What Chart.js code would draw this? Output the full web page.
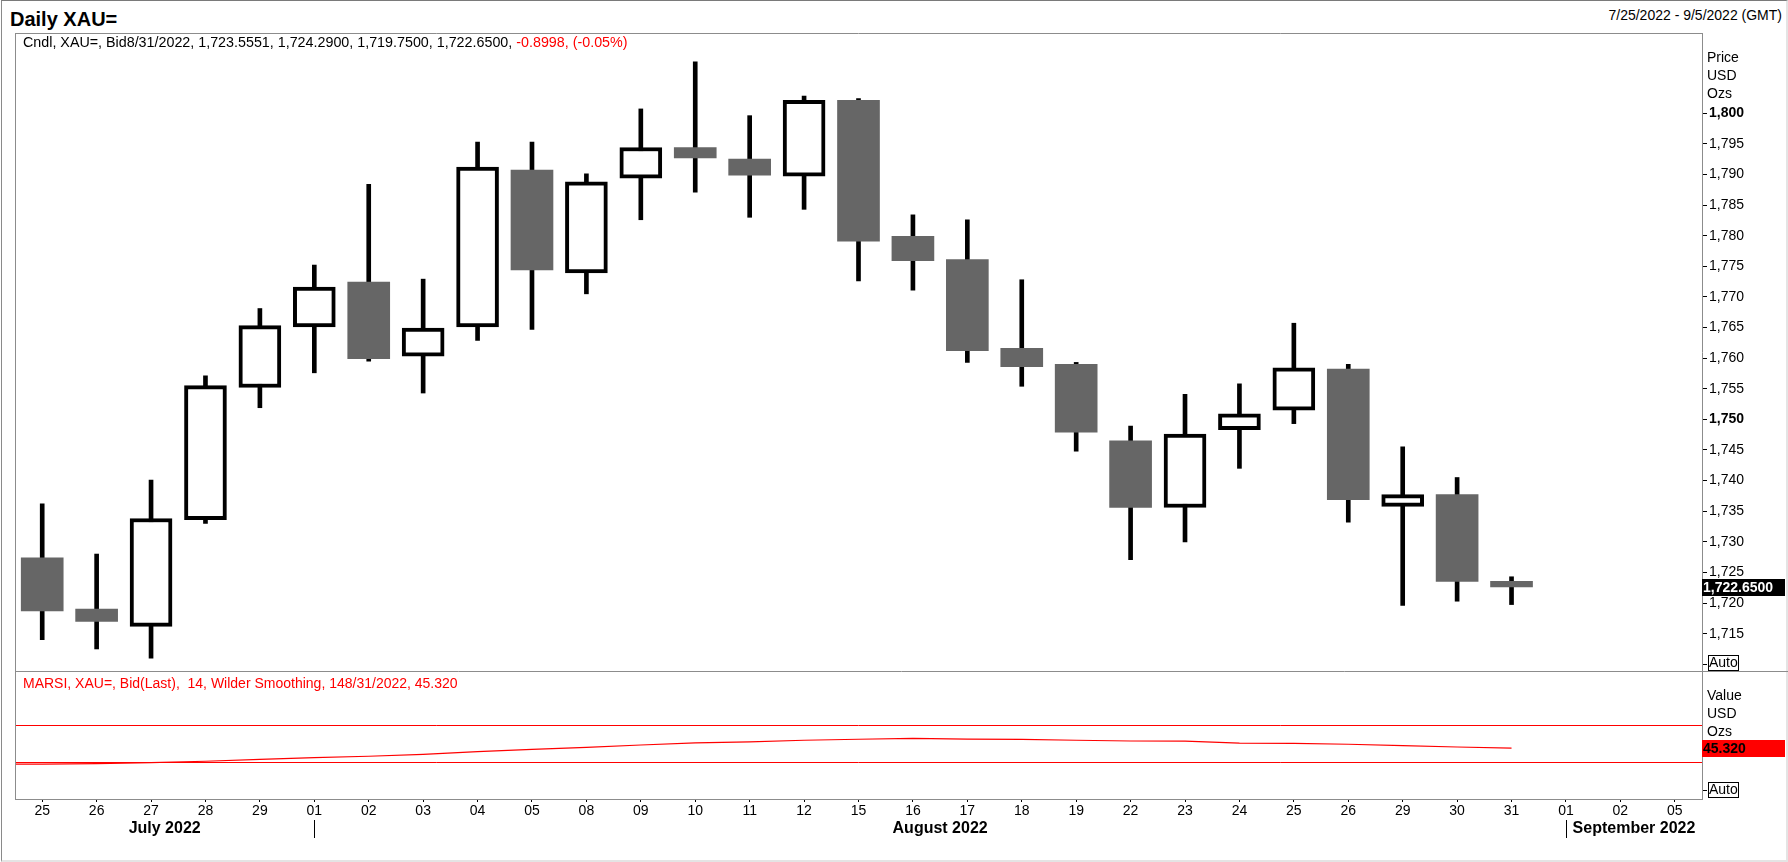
<!DOCTYPE html>
<html>
<head>
<meta charset="utf-8">
<title>Daily XAU=</title>
<script src="https://cdn.jsdelivr.net/npm/chart.js@4.4.1/dist/chart.umd.min.js"></script>
<style>
    html, body { margin: 0; padding: 0; background: #fff; }
    body {
        width: 1788px; height: 862px; position: relative; overflow: hidden;
        font-family: "Liberation Sans", Arial, sans-serif; color: #000;
    }
    .frame {
        position: absolute; left: 1px; top: 0; width: 1787px; height: 862px; box-sizing: border-box;
        border-top: 1px solid #7a7a7a; border-left: 1px solid #8a8a8a;
        border-right: 2px solid #e4e4e4; border-bottom: 2px solid #e4e4e4;
    }
    canvas { position: absolute; }
    #priceChart { left: 15px; top: 33px; }
    #rsiChart { left: 15px; top: 671px; }
    .txt { position: absolute; white-space: pre; z-index: 2; }
    #title { left: 10px; top: 7px; font-size: 20px; font-weight: bold; line-height: 24px; }
    #range { right: 6px; top: 7px; font-size: 14px; line-height: 16px; }
    #legend { left: 23px; top: 34px; font-size: 14.3px; line-height: 16px; }
    #rsiLegend { left: 23px; top: 675px; font-size: 14px; line-height: 16px; color: #ff0000; }
    .neg { color: #ff0000; }
</style>
</head>
<body>
<div class="frame"></div>
<div class="txt" id="title">Daily XAU=</div>
<div class="txt" id="range">7/25/2022 - 9/5/2022 (GMT)</div>
<div class="txt" id="legend">Cndl, XAU=, Bid8/31/2022, 1,723.5551, 1,724.2900, 1,719.7500, 1,722.6500, <span class="neg">-0.8998, (-0.05%)</span></div>
<div class="txt" id="rsiLegend">MARSI, XAU=, Bid(Last),  14, Wilder Smoothing, 148/31/2022, 45.320</div>
<canvas id="priceChart" width="1773" height="638"></canvas>
<canvas id="rsiChart" width="1773" height="191"></canvas>

<script>
// trading days 25 Jul - 5 Sep 2022 (last three are empty sessions)
const dayLabels = ['25', '26', '27', '28', '29', '01', '02', '03', '04', '05', '08', '09', '10', '11', '12',
    '15', '16', '17', '18', '19', '22', '23', '24', '25', '26', '29', '30', '31', '01', '02', '05'];
const monthNames = ['July 2022', 'August 2022', 'September 2022'];
const monthStart = [0, 5, 28];

const opens  = [1727.4, 1719.0, 1716.2, 1733.6, 1755.2, 1765.1, 1772.4, 1760.3, 1765.1, 1790.7, 1773.9, 1789.4, 1794.4, 1792.5,
    1789.7, 1802.1, 1779.9, 1776.1, 1761.6, 1759.0, 1746.5, 1735.6, 1748.3, 1751.5, 1758.2, 1735.8, 1737.7, 1723.5551];
const highs  = [1736.2, 1728.0, 1740.1, 1757.1, 1768.1, 1775.2, 1788.4, 1772.9, 1795.3, 1795.3, 1790.1, 1800.7, 1808.4, 1799.6,
    1802.8, 1802.4, 1783.4, 1782.6, 1772.8, 1759.3, 1748.9, 1754.1, 1755.8, 1765.7, 1759.0, 1745.5, 1740.5, 1724.29];
const lows   = [1714.0, 1712.5, 1711.0, 1733.0, 1751.9, 1757.6, 1759.5, 1754.3, 1762.9, 1764.7, 1770.5, 1782.6, 1787.1, 1783.0,
    1784.3, 1772.6, 1771.1, 1759.3, 1755.4, 1744.8, 1727.1, 1730.0, 1742.0, 1749.3, 1733.2, 1719.6, 1720.3, 1719.75];
const closes = [1718.7, 1717.0, 1733.8, 1755.5, 1765.3, 1771.6, 1759.9, 1764.9, 1791.2, 1774.4, 1788.8, 1794.4, 1792.7, 1789.9,
    1802.1, 1779.1, 1775.9, 1761.2, 1758.6, 1747.9, 1735.6, 1747.6, 1750.9, 1758.4, 1736.9, 1737.7, 1723.55, 1722.65];

// MARSI (14, Wilder) per session, plus the session before 25 Jul
const rsiPrior = 28.0;
const rsiValues = [28.1, 28.6, 29.7, 31.1, 33.1, 35.1, 36.5, 38.6, 41.5, 44.0, 46.2, 48.7, 50.9, 52.0,
    53.8, 54.9, 55.9, 55.0, 54.8, 53.8, 53.0, 52.8, 50.8, 50.4, 49.5, 48.1, 46.5, 45.32];
const rsiLevels = [70, 30];

const priceTicks = [1710, 1715, 1720, 1725, 1730, 1735, 1740, 1745, 1750, 1755, 1760, 1765, 1770, 1775,
    1780, 1785, 1790, 1795, 1800];
const autoPriceTick = 1710;
const autoRsiTick = 0;

const FONT = '"Liberation Sans", Arial, sans-serif';
const FRAME = '#8c8c8c';

document.addEventListener('DOMContentLoaded', function () {
    Chart.defaults.font.family = FONT;
    Chart.defaults.color = '#000';

    function axisHeader(ctx, area, lines) {
        ctx.save();
        ctx.font = '14px ' + FONT;
        ctx.fillStyle = '#000';
        ctx.textBaseline = 'middle';
        ctx.textAlign = 'left';
        lines.forEach(function (t, i) { ctx.fillText(t, area.right + 5, area.top + 25 + i * 18); });
        ctx.restore();
    }

    function autoBox(ctx, area, y) {
        ctx.save();
        ctx.font = '14px ' + FONT;
        ctx.textBaseline = 'middle';
        ctx.fillStyle = '#fff';
        ctx.fillRect(area.right + 6, y - 7, 30, 15);
        ctx.strokeStyle = '#000';
        ctx.lineWidth = 1;
        ctx.strokeRect(area.right + 6.5, y - 7.5, 30, 15);
        ctx.fillStyle = '#000';
        ctx.fillText('Auto', area.right + 7, y + 0.5);
        ctx.restore();
    }

    function valueTag(ctx, area, y, text, bg, fg) {
        ctx.save();
        ctx.fillStyle = bg;
        ctx.fillRect(area.right, y - 8, 83, 17);
        ctx.font = 'bold 14px ' + FONT;
        ctx.fillStyle = fg;
        ctx.textBaseline = 'middle';
        ctx.fillText(text, area.right + 1, y + 1);
        ctx.restore();
    }

    // Biểu đồ nến: thân + bóng nến bằng floating bars
    const bodyColors = opens.map(function (o, i) { return closes[i] >= o ? '#ffffff' : '#666666'; });
    const bodyBorders = opens.map(function (o, i) { return closes[i] >= o ? 4 : 0; });

    const pricePlugin = {
        id: 'priceDecor',
        afterDraw: function (chart) {
            const ctx = chart.ctx, a = chart.chartArea, y = chart.scales.y;
            ctx.save();
            ctx.strokeStyle = FRAME;
            ctx.lineWidth = 1;
            ctx.beginPath();
            ctx.moveTo(a.left, a.top + 0.5);
            ctx.lineTo(a.right, a.top + 0.5);
            ctx.moveTo(a.left + 0.5, a.top);
            ctx.lineTo(a.left + 0.5, a.bottom);
            ctx.stroke();
            ctx.restore();
            axisHeader(ctx, a, ['Price', 'USD', 'Ozs']);
            autoBox(ctx, a, Math.round(y.getPixelForValue(autoPriceTick)) - 1);
            const last = closes[closes.length - 1];
            valueTag(ctx, a, Math.round(y.getPixelForValue(last)), last.toFixed(4).replace(/^(\d)(\d{3})/, '$1,$2'), '#000', '#fff');
        }
    };

    new Chart(document.getElementById('priceChart').getContext('2d'), {
        type: 'bar',
        data: {
            labels: dayLabels,
            datasets: [{
                label: 'Body',
                data: opens.map(function (o, i) { return [o, closes[i]]; }),
                backgroundColor: bodyColors,
                borderColor: '#000',
                borderWidth: bodyBorders,
                borderSkipped: false,
                barThickness: 42,
                grouped: false,
                order: 0
            }, {
                label: 'Wick',
                data: lows.map(function (l, i) { return [l, highs[i]]; }),
                backgroundColor: '#000',
                borderWidth: 0,
                barThickness: 4,
                grouped: false,
                order: 1
            }]
        },
        options: {
            responsive: false,
            animation: false,
            events: [],
            plugins: { legend: { display: false }, tooltip: { enabled: false } },
            scales: {
                x: { display: false, offset: true },
                y: {
                    position: 'right',
                    min: 1708.9,
                    max: 1813.1,
                    afterBuildTicks: function (s) { s.ticks = priceTicks.map(function (v) { return { value: v }; }); },
                    afterFit: function (s) { s.width = 86; s.paddingTop = 0; s.paddingBottom = 0; },
                    ticks: {
                        padding: 2,
                        color: '#000',
                        font: function (c) {
                            return { size: 14, weight: c.tick && c.tick.value % 50 === 0 ? 'bold' : 'normal' };
                        },
                        callback: function (v) { return v === autoPriceTick ? '' : v.toLocaleString('en-US'); }
                    },
                    grid: { drawOnChartArea: false, tickLength: 5, color: '#000' },
                    border: { color: FRAME }
                }
            }
        },
        plugins: [pricePlugin]
    });

    // Biểu đồ: MARSI
    const rsiPoints = [{ x: -1, y: rsiPrior }].concat(rsiValues.map(function (v, i) { return { x: i, y: v }; }));

    const rsiPlugin = {
        id: 'rsiDecor',
        beforeDatasetsDraw: function (chart) {
            const ctx = chart.ctx, a = chart.chartArea, y = chart.scales.y;
            ctx.save();
            ctx.strokeStyle = '#ff0000';
            ctx.lineWidth = 1;
            ctx.beginPath();
            rsiLevels.forEach(function (lv) {
                const py = Math.round(y.getPixelForValue(lv)) + 0.5;
                ctx.moveTo(a.left, py);
                ctx.lineTo(a.right, py);
            });
            ctx.stroke();
            ctx.restore();
        },
        afterDraw: function (chart) {
            const ctx = chart.ctx, a = chart.chartArea, x = chart.scales.x, y = chart.scales.y;
            ctx.save();
            ctx.strokeStyle = FRAME;
            ctx.lineWidth = 1;
            ctx.beginPath();
            ctx.moveTo(a.left, a.top + 0.5);
            ctx.lineTo(chart.width, a.top + 0.5);
            ctx.moveTo(a.left + 0.5, a.top);
            ctx.lineTo(a.left + 0.5, a.bottom);
            ctx.stroke();

            // tên tháng + vạch phân cách
            ctx.font = 'bold 16px ' + FONT;
            ctx.fillStyle = '#000';
            ctx.textAlign = 'center';
            ctx.textBaseline = 'middle';
            monthNames.forEach(function (m, i) {
                const x0 = i === 0 ? a.left : x.getPixelForValue(monthStart[i]);
                const x1 = i === monthNames.length - 1 ? a.right : x.getPixelForValue(monthStart[i + 1]);
                ctx.fillText(m, (x0 + x1) / 2, a.bottom + 30);
                if (i > 0) {
                    ctx.strokeStyle = '#000';
                    ctx.beginPath();
                    ctx.moveTo(Math.round(x0) + 0.5, a.bottom + 21);
                    ctx.lineTo(Math.round(x0) + 0.5, a.bottom + 39);
                    ctx.stroke();
                }
            });
            ctx.restore();

            axisHeader(ctx, a, ['Value', 'USD', 'Ozs']);
            autoBox(ctx, a, Math.round(y.getPixelForValue(autoRsiTick)));
            const last = rsiValues[rsiValues.length - 1];
            valueTag(ctx, a, Math.round(y.getPixelForValue(last)), last.toFixed(3), '#ff0000', '#000');
        }
    };

    new Chart(document.getElementById('rsiChart').getContext('2d'), {
        type: 'line',
        data: {
            datasets: [{
                label: 'MARSI',
                data: rsiPoints,
                borderColor: '#ff0000',
                borderWidth: 1.2,
                pointRadius: 0,
                tension: 0
            }]
        },
        options: {
            responsive: false,
            animation: false,
            events: [],
            plugins: { legend: { display: false }, tooltip: { enabled: false } },
            scales: {
                x: {
                    type: 'linear',
                    min: -0.5,
                    max: dayLabels.length - 0.5,
                    afterBuildTicks: function (s) { s.ticks = dayLabels.map(function (d, i) { return { value: i }; }); },
                    afterFit: function (s) { s.height = 63; s.paddingLeft = 0; s.paddingRight = 0; },
                    ticks: {
                        padding: 1,
                        maxRotation: 0,
                        autoSkip: false,
                        color: '#000',
                        font: { size: 14 },
                        callback: function (v) { return dayLabels[v]; }
                    },
                    grid: { drawOnChartArea: false, tickLength: 3, color: '#000', offset: false },
                    border: { color: FRAME }
                },
                y: {
                    position: 'right',
                    min: -9.7,
                    max: 128.7,
                    afterBuildTicks: function (s) { s.ticks = [{ value: autoRsiTick }]; },
                    afterFit: function (s) { s.width = 86; s.paddingTop = 0; s.paddingBottom = 0; },
                    ticks: { callback: function () { return ''; } },
                    grid: { drawOnChartArea: false, tickLength: 5, color: '#000' },
                    border: { color: FRAME }
                }
            }
        },
        plugins: [rsiPlugin]
    });
});
</script>
</body>
</html>
